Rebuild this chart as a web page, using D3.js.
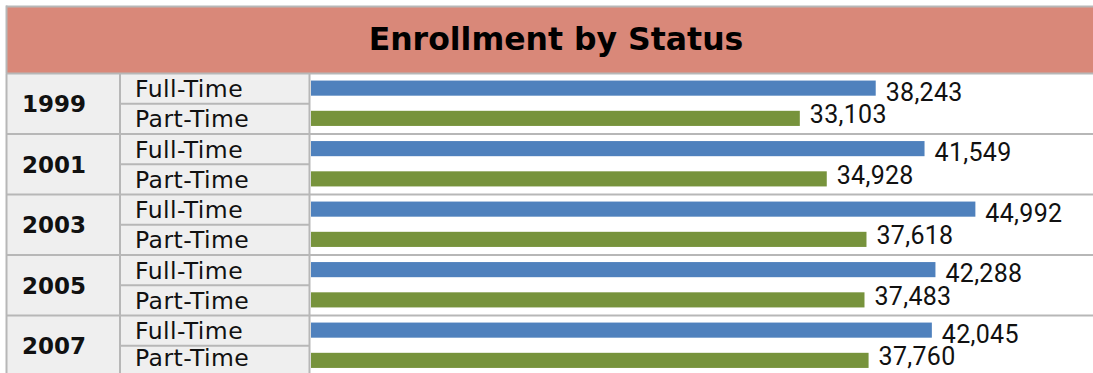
<!DOCTYPE html>
<html>
<head>
<meta charset="utf-8">
<script src="https://cdn.jsdelivr.net/npm/d3@7/dist/d3.min.js"></script>
<style>
  html, body { margin: 0; padding: 0; background: #ffffff; }
  svg { display: block; }
</style>
</head>
<body>
<svg id="chart" width="1093" height="373"></svg>
<script>
// Enrollment headcount by survey year and attendance status
const years = ["1999", "2001", "2003", "2005", "2007"];
const statuses = ["Full-Time", "Part-Time"];
const fullTime = [38243, 41549, 44992, 42288, 42045];
const partTime = [33103, 34928, 37618, 37483, 37760];
const title = "Enrollment by Status";

const rows = years.map((y, i) => ({ year: y, values: [fullTime[i], partTime[i]] }));

const W = 1093, H = 373;
const left = 6, right = 1093;
const titleTop = 7, titleBottom = 73.5;
const groupH = 60.5;
const yearColEnd = 120, labelColEnd = 310;
const barStart = 311;

const colors = { "Full-Time": "#4F81BD", "Part-Time": "#77933C" };
const gridColor = "#B7B7B7";
const cellFill = "#EFEFEF";
const fmt = d3.format(",");

const svg = d3.select("#chart");

// scales
const y = d3.scaleBand().domain(years)
  .range([titleBottom, titleBottom + groupH * years.length]);
const ySub = d3.scaleBand().domain(statuses).range([0, y.bandwidth()]);
const yBar = d3.scaleBand().domain(statuses).range([0, y.bandwidth()]).paddingInner(0.5).paddingOuter(0.25);
const x = d3.scaleLinear().domain([0, 52890]).range([barStart, right - 1]);

// title band
svg.append("rect")
  .attr("x", left).attr("y", titleTop - 1)
  .attr("width", right - left).attr("height", titleBottom - titleTop + 1)
  .attr("fill", "#D98879");
svg.append("text")
  .attr("x", 556).attr("y", 50)
  .attr("text-anchor", "middle")
  .attr("font-family", "DejaVu Sans, Verdana, sans-serif")
  .attr("font-weight", "bold")
  .attr("font-size", 31.5)
  .attr("fill", "#000")
  .text(title);

// row groups
const g = svg.selectAll("g.group").data(rows).join("g")
  .attr("class", "group")
  .attr("transform", d => `translate(0,${y(d.year)})`);

// year cell
g.append("rect")
  .attr("x", left).attr("y", 0)
  .attr("width", yearColEnd - left).attr("height", y.bandwidth())
  .attr("fill", cellFill);
g.append("text")
  .attr("x", 22).attr("y", y.bandwidth() / 2 + 8.5)
  .attr("font-family", "DejaVu Sans, Verdana, sans-serif")
  .attr("font-weight", "bold")
  .attr("font-size", 23)
  .attr("fill", "#111")
  .text(d => d.year);

// status cells
g.selectAll("rect.cell").data(statuses).join("rect")
  .attr("class", "cell")
  .attr("x", yearColEnd).attr("y", s => ySub(s))
  .attr("width", labelColEnd - yearColEnd).attr("height", ySub.bandwidth())
  .attr("fill", cellFill);
// status text, kept inside the visible frame for the last (clipped) row
g.each(function (d) {
  const top = y(d.year);
  d3.select(this).selectAll("text.status").data(statuses).join("text")
    .attr("class", "status")
    .attr("x", 135)
    .attr("y", s => Math.min(ySub(s) + ySub.bandwidth() / 2 + 8.6, H - 7 - top))
    .attr("font-family", "DejaVu Sans, Verdana, sans-serif")
    .attr("font-size", 23.5)
    .attr("letter-spacing", 0.45)
    .attr("fill", "#111")
    .text(s => s);
});

// divider between the two status rows (label columns only)
g.append("line")
  .attr("x1", yearColEnd).attr("x2", labelColEnd)
  .attr("y1", ySub("Part-Time")).attr("y2", ySub("Part-Time"))
  .attr("stroke", gridColor).attr("stroke-width", 2);

// bars
const barData = d => statuses.map((s, i) => ({ status: s, value: d.values[i] }));
g.selectAll("rect.bar").data(barData).join("rect")
  .attr("class", "bar")
  .attr("x", x(0))
  .attr("y", b => yBar(b.status) - 0.5)
  .attr("width", b => x(b.value) - x(0))
  .attr("height", yBar.bandwidth())
  .attr("fill", b => colors[b.status]);

// value labels
const labelDy = { "Full-Time": 12.5, "Part-Time": 5 };
g.selectAll("text.value").data(barData).join("text")
  .attr("class", "value")
  .attr("x", b => x(b.value) + 10)
  .attr("y", b => yBar(b.status) - 0.5 + yBar.bandwidth() / 2 + labelDy[b.status])
  .attr("font-family", "Roboto, 'Noto Sans', sans-serif")
  .attr("font-size", 25)
  .attr("letter-spacing", 0.3)
  .attr("fill", "#111")
  .text(b => fmt(b.value));

// horizontal group dividers across the full width
svg.selectAll("line.hdiv").data(years).join("line")
  .attr("class", "hdiv")
  .attr("x1", left).attr("x2", right)
  .attr("y1", d => y(d)).attr("y2", d => y(d))
  .attr("stroke", gridColor).attr("stroke-width", 2);

// vertical column borders
const vTop = titleBottom, vBottom = H;
[left + 0.5, yearColEnd, labelColEnd - 0.5].forEach(vx => {
  svg.append("line")
    .attr("x1", vx).attr("x2", vx)
    .attr("y1", vTop).attr("y2", vBottom)
    .attr("stroke", gridColor).attr("stroke-width", 2);
});

// outer frame of the title band
svg.append("line")
  .attr("x1", left).attr("x2", right)
  .attr("y1", titleTop - 0.5).attr("y2", titleTop - 0.5)
  .attr("stroke", gridColor).attr("stroke-width", 2);
svg.append("line")
  .attr("x1", left + 0.5).attr("x2", left + 0.5)
  .attr("y1", titleTop - 1.5).attr("y2", titleBottom)
  .attr("stroke", gridColor).attr("stroke-width", 2);
</script>
</body>
</html>
